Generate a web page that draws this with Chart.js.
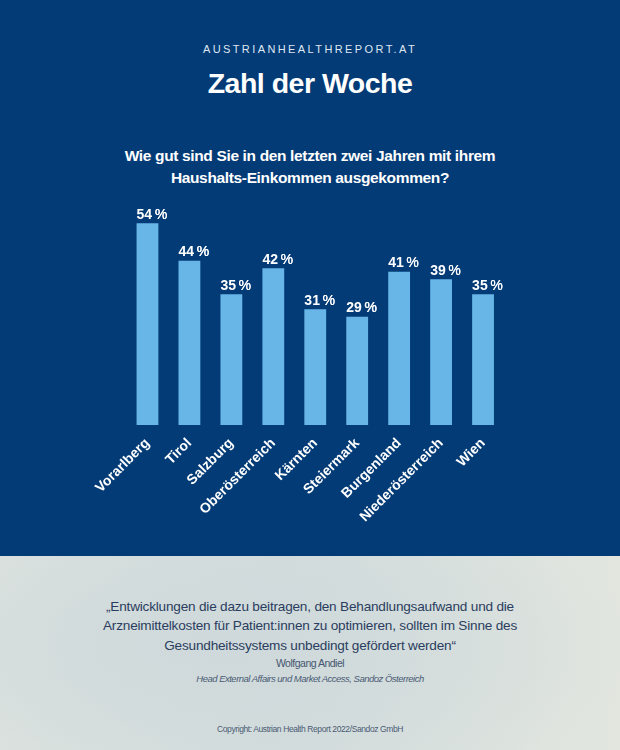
<!DOCTYPE html>
<html>
<head>
<meta charset="utf-8">
<script src="https://cdn.jsdelivr.net/npm/chart.js@4.4.1/dist/chart.umd.min.js"></script>
<style>
  html, body { margin:0; padding:0; }
  body { width:620px; height:750px; position:relative; overflow:hidden; font-family:"Liberation Sans", Arial, sans-serif; }
  #top { position:absolute; left:0; top:0; width:620px; height:556px; background:#033b77; }
  #bottom { position:absolute; left:0; top:556px; width:620px; height:194px;
    background: radial-gradient(ellipse 420px 160px at 220px 90px, #cfd9db 0%, rgba(207,217,219,0) 100%),
                linear-gradient(90deg, #dde3df 0%, #d3dddd 45%, #e2e6df 100%); }
  .t { position:absolute; left:0; width:620px; text-align:center; white-space:nowrap; }
  #site { top:43px; font-size:11px; letter-spacing:2.4px; color:#dfe7f2; }
  #title { top:67px; font-size:28.5px; font-weight:bold; letter-spacing:-0.5px; color:#fff; }
  #q { top:145px; font-size:15.5px; font-weight:bold; letter-spacing:-0.35px; line-height:22px; color:#fff; }
  #quote { top:597px; font-size:13.6px; letter-spacing:-0.2px; line-height:19.3px; color:#2b3d5e; }
  #name { top:657px; font-size:10.5px; letter-spacing:-0.5px; color:#45566f; }
  #role { top:673px; font-size:9.5px; font-style:italic; letter-spacing:-0.5px; color:#4a5b74; }
  #copy { top:724px; font-size:8.5px; letter-spacing:-0.4px; color:#4a5b74; }
  #wrap { position:absolute; left:0; top:190px; width:620px; height:365px; }
</style>
</head>
<body>
<div id="top"></div>
<div id="bottom"></div>
<div class="t" id="site">AUSTRIANHEALTHREPORT.AT</div>
<div class="t" id="title">Zahl der Woche</div>
<div class="t" id="q">Wie gut sind Sie in den letzten zwei Jahren mit ihrem<br>Haushalts-Einkommen ausgekommen?</div>
<div class="t" id="quote">„Entwicklungen die dazu beitragen, den Behandlungsaufwand und die<br>Arzneimittelkosten für Patient:innen zu optimieren, sollten im Sinne des<br>Gesundheitssystems unbedingt gefördert werden“</div>
<div class="t" id="name">Wolfgang Andiel</div>
<div class="t" id="role">Head External Affairs und Market Access, Sandoz Österreich</div>
<div class="t" id="copy">Copyright: Austrian Health Report 2022/Sandoz GmbH</div>
<div id="wrap"><canvas id="c" width="620" height="365"></canvas></div>
<script>
const categories = ["Vorarlberg","Tirol","Salzburg","Oberösterreich","Kärnten","Steiermark","Burgenland","Niederösterreich","Wien"];
const values = [54,44,35,42,31,29,41,39,35];
const unitLabel = "%";

const valuePlugin = {
  id:'valueLabels',
  afterDatasetsDraw(chart){
    const ctx = chart.ctx;
    const meta = chart.getDatasetMeta(0);
    const ds = chart.data.datasets[0].data;
    ctx.save();
    ctx.fillStyle = '#ffffff';
    ctx.textAlign = 'left';
    ctx.textBaseline = 'alphabetic';
    meta.data.forEach((bar, i) => {
      const x0 = bar.x - bar.width/2, y0 = bar.y - 4.5;
      const num = String(ds[i]);
      ctx.font = 'bold 14px "Liberation Sans", Arial, sans-serif';
      ctx.fillText(num, x0, y0);
      const w = ctx.measureText(num).width;
      ctx.font = '14px "Liberation Sans", Arial, sans-serif';
      ctx.fillText(unitLabel, x0 + w + 2.5, y0);
      ctx.fillText(unitLabel, x0 + w + 2.8, y0);
    });
    ctx.restore();
  }
};

new Chart(document.getElementById('c'), {
  type:'bar',
  data:{ labels:categories, datasets:[{ data:values, backgroundColor:'#68b6e7', borderWidth:0, barPercentage:0.52, categoryPercentage:1 }] },
  options:{
    responsive:false, animation:false,
    layout:{ padding:{ left:126.5, right:116, top:10.9, bottom:0 } },
    plugins:{ legend:{display:false}, tooltip:{enabled:false} },
    scales:{
      x:{
        grid:{display:false}, border:{display:false},
        ticks:{ color:'#ffffff', font:{ family:'"Liberation Sans", Arial, sans-serif', size:14, weight:'bold' }, minRotation:45, maxRotation:45, padding:2, autoSkip:false },
        afterFit(axis){ axis.height = 130; }
      },
      y:{ display:false, min:0, max:60 }
    }
  },
  plugins:[valuePlugin]
});
</script>
</body>
</html>
